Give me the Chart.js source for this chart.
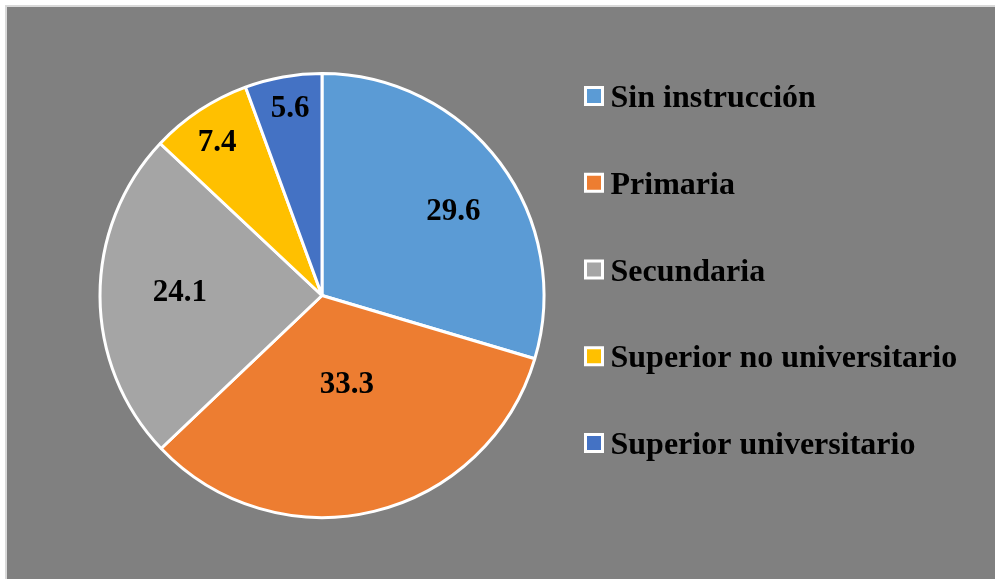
<!DOCTYPE html>
<html>
<head>
<meta charset="utf-8">
<script src="https://cdn.jsdelivr.net/npm/chart.js@4/dist/chart.umd.min.js"></script>
<style>
    html, body { margin: 0; padding: 0; background: #ffffff; }
    #wrap { position: absolute; left: 0; top: 0; width: 995px; height: 579px; }
</style>
</head>
<body>
<div id="wrap"><canvas id="myChart" width="995" height="579"></canvas></div>
<script>
const categories = ['Sin instrucción', 'Primaria', 'Secundaria', 'Superior no universitario', 'Superior universitario'];
const values = [29.6, 33.3, 24.1, 7.4, 5.6];
const colors = ['#5b9bd5', '#ed7d31', '#a5a5a5', '#ffc000', '#4472c4'];

const FONT = 'bold 31px "Liberation Serif", "Times New Roman", serif';
const LEGEND_FONT = 'bold 32px "Liberation Serif", "Times New Roman", serif';

// fondo gris con borde claro
const backgroundPlugin = {
    id: 'panel',
    beforeDraw(chart) {
        const ctx = chart.ctx;
        ctx.save();
        ctx.fillStyle = '#ffffff';
        ctx.fillRect(0, 0, chart.width, chart.height);
        ctx.fillStyle = '#d9d9d9';
        ctx.fillRect(5, 5, chart.width - 5, chart.height - 5);
        ctx.fillStyle = '#808080';
        ctx.fillRect(7, 7, chart.width - 7, chart.height - 7);
        ctx.restore();
    }
};

// etiquetas de valores dentro de cada sector
const labelPlugin = {
    id: 'sliceLabels',
    afterDatasetsDraw(chart, args, opts) {
        const ctx = chart.ctx;
        const meta = chart.getDatasetMeta(0);
        ctx.save();
        ctx.font = FONT;
        ctx.fillStyle = '#000000';
        ctx.textAlign = 'center';
        ctx.textBaseline = 'alphabetic';
        meta.data.forEach((arc, i) => {
            const p = arc.getProps(['x', 'y', 'startAngle', 'endAngle', 'outerRadius'], true);
            const mid = (p.startAngle + p.endAngle) / 2 + opts.shift[i] * Math.PI / 180;
            const r = p.outerRadius * opts.factor[i];
            const x = p.x + Math.cos(mid) * r;
            const y = p.y + Math.sin(mid) * r;
            ctx.fillText(String(chart.data.datasets[0].data[i]), x, y + 10);
        });
        ctx.restore();
    }
};

// leyenda a la derecha
const legendPlugin = {
    id: 'sideLegend',
    afterDraw(chart, args, opts) {
        const ctx = chart.ctx;
        const ds = chart.data.datasets[0];
        ctx.save();
        ctx.font = LEGEND_FONT;
        ctx.textAlign = 'left';
        ctx.textBaseline = 'alphabetic';
        chart.data.labels.forEach((label, i) => {
            const cy = opts.top + i * opts.step;
            ctx.fillStyle = ds.backgroundColor[i];
            ctx.fillRect(opts.x, cy - 8.5, 17, 17);
            ctx.strokeStyle = '#ffffff';
            ctx.lineWidth = 3;
            ctx.strokeRect(opts.x, cy - 8.5, 17, 17);
            ctx.fillStyle = '#000000';
            ctx.fillText(label, opts.x + 25, cy + 11);
        });
        ctx.restore();
    }
};

const ctx = document.getElementById('myChart').getContext('2d');
const myChart = new Chart(ctx, {
    type: 'pie',
    data: {
        labels: categories,
        datasets: [{
            data: values,
            backgroundColor: colors,
            borderColor: '#ffffff',
            borderWidth: 3,
            hoverOffset: 0
        }]
    },
    options: {
        responsive: false,
        animation: false,
        radius: 222,
        layout: {
            padding: { left: 98, right: 449, top: 72, bottom: 60 }
        },
        plugins: {
            legend: { display: false },
            tooltip: { enabled: false },
            sliceLabels: {
                factor: [0.705, 0.41, 0.64, 0.84, 0.86],
                shift: [3.8, -2.3, 2, -0.7, 0.5]
            },
            sideLegend: { x: 585.5, top: 96, step: 86.75 }
        }
    },
    plugins: [backgroundPlugin, labelPlugin, legendPlugin]
});
</script>
</body>
</html>
